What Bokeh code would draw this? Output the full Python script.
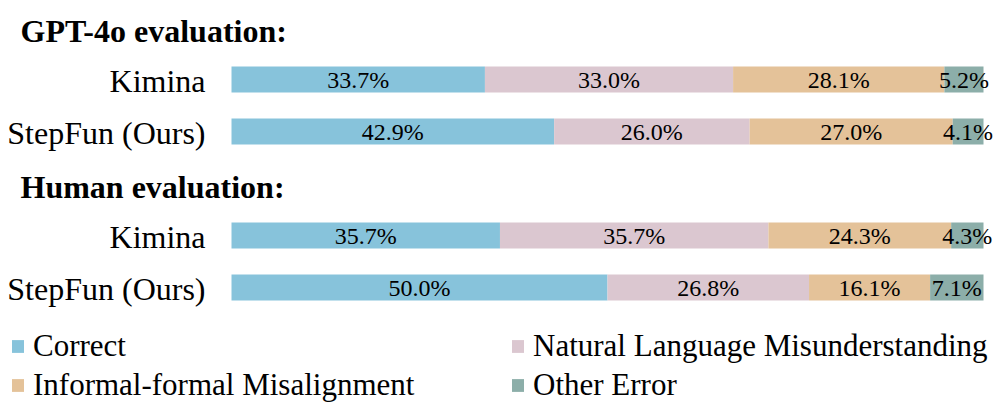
from bokeh.plotting import figure
from bokeh.models import ColumnDataSource, Range1d, Legend, LegendItem
from bokeh.core.properties import value
from bokeh.embed import file_html
from bokeh.resources import INLINE

# ---- data ----
groups = ["GPT-4o evaluation:", "Human evaluation:"]
models = ["Kimina", "StepFun (Ours)", "Kimina", "StepFun (Ours)"]
categories = ["Correct", "Natural Language Misunderstanding",
              "Informal-formal Misalignment", "Other Error"]
correct = [33.7, 42.9, 35.7, 50.0]
nl_misunderstanding = [33.0, 26.0, 35.7, 26.8]
informal_formal = [28.1, 27.0, 24.3, 16.1]
other_error = [5.2, 4.1, 4.3, 7.1]

# ---- layout / style ----
colors = ["#87C3DB", "#DBC7D0", "#E4C299", "#8CAEA9"]
FONT = "Liberation Serif"
W, H = 996, 407
bar_left_px, bar_right_px = 231, 983
scale = (bar_right_px - bar_left_px) / 100.0
row_y = [79, 131, 235, 287]          # canvas-pixel rows (top = 0)
heading_y = [30, 186]

p = figure(width=W, height=H, output_backend="svg", toolbar_location=None,
           x_range=Range1d(-bar_left_px / scale, (W - bar_left_px) / scale),
           y_range=Range1d(H, 0), min_border=0, outline_line_color=None)
p.axis.visible = False
p.grid.visible = False
p.background_fill_color = "white"
p.border_fill_color = "white"

keys = ["correct", "nlm", "ifm", "other"]
src = ColumnDataSource(dict(y=row_y, correct=correct, nlm=nl_misunderstanding,
                            ifm=informal_formal, other=other_error))
renderers = p.hbar_stack(keys, y="y", height=26, color=colors, line_color=None,
                         source=src)

# segment labels
lx, ly, lt = [], [], []
series = [correct, nl_misunderstanding, informal_formal, other_error]
for i, y in enumerate(row_y):
    start = 0.0
    for s in series:
        v = s[i]
        lx.append(start + v / 2.0)
        ly.append(y)
        lt.append(f"{v:.1f}%")
        start += v
p.text(x=lx, y=ly, text=lt, text_font=value(FONT), text_font_size="24px",
       text_align="center", text_baseline="middle", text_color="black")

# row labels
p.text(x=[0] * len(models), y=row_y, text=models, text_font=value(FONT),
       text_font_size="32px", text_align="right", text_baseline="middle",
       x_offset=-26, y_offset=1, text_color="black")

# headings
p.text(x=[0, 0], y=heading_y, text=groups, text_font=value(FONT),
       text_font_size="32px", text_font_style="bold", text_align="left",
       text_baseline="middle", x_offset=-211, text_color="black")

# legends (two columns)
def make_legend(idx, loc):
    lg = Legend(items=[LegendItem(label=categories[i], renderers=[renderers[i]]) for i in idx],
                location=loc, orientation="vertical",
                label_text_font=FONT, label_text_font_size="31px",
                label_text_color="black",
                glyph_width=15, glyph_height=16, label_standoff=8,
                spacing=3, padding=0, margin=0,
                border_line_color=None, background_fill_alpha=0)
    p.add_layout(lg)

make_legend([0, 2], (10, 4))
make_legend([1, 3], (510, 4))

open("out.html", "w").write(file_html(p, INLINE))
